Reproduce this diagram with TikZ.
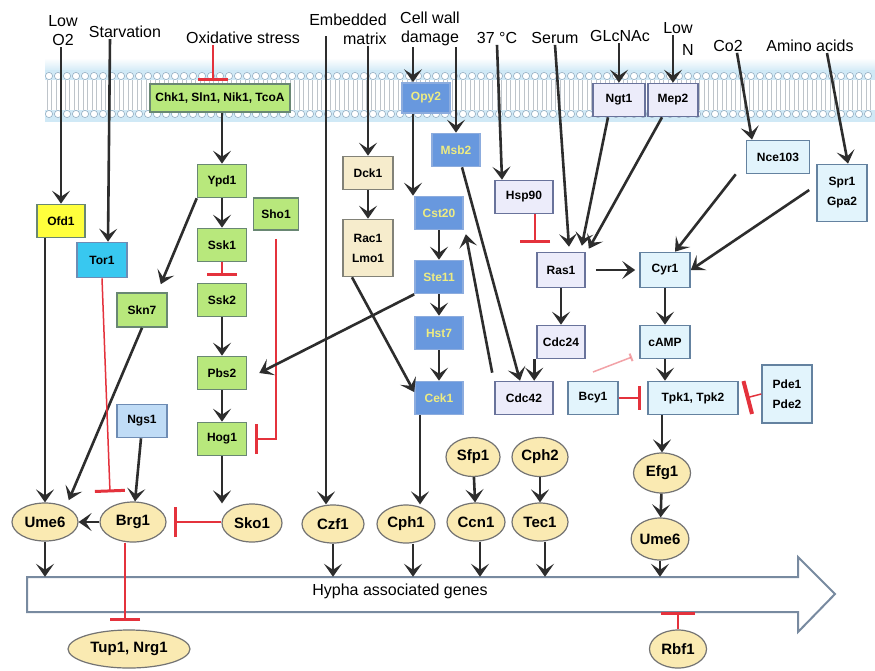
\documentclass[tikz,border=0pt]{standalone}
\usepackage{fontspec}
\setmainfont{Liberation Sans}
\usetikzlibrary{arrows.meta,shapes.geometric}
\definecolor{gfill}{RGB}{184,232,124}
\definecolor{gline}{RGB}{105,135,115}
\definecolor{bfill}{RGB}{104,152,222}
\definecolor{bline}{RGB}{140,172,222}
\definecolor{btext}{RGB}{238,236,130}
\definecolor{yfill}{RGB}{246,236,204}
\definecolor{yline}{RGB}{130,130,120}
\definecolor{lfill}{RGB}{236,236,250}
\definecolor{lline}{RGB}{105,115,155}
\definecolor{cfill}{RGB}{226,244,252}
\definecolor{cline}{RGB}{100,130,160}
\definecolor{nfill}{RGB}{192,220,246}
\definecolor{nline}{RGB}{110,140,180}
\definecolor{efill}{RGB}{250,234,178}
\definecolor{eline}{RGB}{115,115,115}
\definecolor{ofdfill}{RGB}{255,255,60}
\definecolor{torfill}{RGB}{56,200,240}
\definecolor{actc}{RGB}{45,45,45}
\definecolor{inhc}{RGB}{228,50,60}
\definecolor{hyline}{RGB}{120,138,160}
\definecolor{memband}{RGB}{208,233,246}
\definecolor{headc}{RGB}{150,175,195}
\definecolor{tailc}{RGB}{190,196,202}
\begin{document}
\begin{tikzpicture}[x=1pt,y=-1pt,
  box/.style={rectangle, line width=1.6pt, minimum width=49pt, minimum height=33pt, inner sep=1pt,
    font=\bfseries\fontsize{12}{20}\selectfont, align=center},
  gbox/.style={box, fill=gfill, draw=gline},
  bbox/.style={box, fill=bfill, draw=bline, text=btext},
  ybox/.style={box, fill=yfill, draw=yline},
  lbox/.style={box, fill=lfill, draw=lline},
  cbox/.style={box, fill=cfill, draw=cline},
  ell/.style={ellipse, draw=eline, fill=efill, line width=1.2pt, minimum width=60pt, minimum height=38pt,
    inner sep=0pt, font=\bfseries\fontsize{15}{16}\selectfont},
  lab/.style={font=\fontsize{16}{19}\selectfont, align=center, inner sep=1pt},
  act/.style={draw=actc, line width=2.6pt, -{Stealth[length=13pt,width=18pt,inset=6pt]}},
  inh/.style={draw=inhc, line width=1.5pt, -{Bar[width=30pt,line width=3pt]}}]
\useasboundingbox (0,0) rectangle (875,670);
\fill[white] (0,0) rectangle (875,670);
% membrane
\shade[top color=white,bottom color=memband] (45,58) rectangle (875,72);
\fill[memband] (45,70) rectangle (875,80);
\fill[memband] (45,110) rectangle (875,122);
\foreach \x in {49,58,...,871} {
  \draw[tailc, line width=.5pt] (\x-1.8,80) -- (\x-1.8,110) (\x+1.8,80) -- (\x+1.8,110);
  \draw[headc, fill=white, line width=.6pt] (\x,76) circle (3.6);
  \draw[headc, fill=white, line width=.6pt] (\x,114) circle (3.6);
}
% hypha arrow
\draw[draw=hyline, line width=2pt, fill=white, line join=miter]
  (27,577) -- (798,577) -- (798,557) -- (835,594) -- (798,632) -- (798,612) -- (27,612) -- cycle;
\node[minimum width=771pt, minimum height=35pt, inner sep=0pt] (hypha) at (412.5,594.5) {};
\node[lab] (hyphatext) at (400,591) {Hypha associated genes};
% labels
\node[lab] (lowO2) at (63,31) {Low\\O2};
\node[lab] (starv) at (125,32) {Starvation};
\node[lab] (oxid) at (243,38) {Oxidative stress};
\node[lab, align=right] (embed) at (348,29) {Embedded\\matrix};
\node[lab] (cellwall) at (430,29) {Cell wall\\damage};
\node[lab] (t37) at (497,38) {37 °C};
\node[lab] (serum) at (555,38) {Serum};
\node[lab] (glcnac) at (620,36) {GLcNAc};
\node[lab] (lowN) at (678,28) {Low};
\node[lab] (nN) at (688,50) {N};
\node[lab] (co2) at (728,46) {Co2};
\node[lab] (amino) at (810,46) {Amino acids};
% membrane proteins
\node[gbox, minimum width=140pt, minimum height=28pt] (chk) at (220,98) {Chk1, Sln1, Nik1, TcoA};
\node[bbox, minimum width=48pt, minimum height=30pt] (opy2) at (426,98) {Opy2};
\node[lbox, minimum width=52pt] (ngt1) at (619,100) {Ngt1};
\node[lbox, minimum width=50pt] (mep2) at (673,100) {Mep2};
% left
\node[box, fill=ofdfill, draw=gline, minimum width=48pt] (ofd1) at (61,221) {Ofd1};
\node[box, fill=torfill, draw=nline, minimum width=50pt, minimum height=35pt] (tor1) at (102,260) {Tor1};
\node[gbox] (ypd1) at (222,181) {Ypd1};
\node[gbox] (ssk1) at (222,245) {Ssk1};
\node[gbox] (ssk2) at (222,300) {Ssk2};
\node[gbox] (pbs2) at (222,373) {Pbs2};
\node[gbox] (hog1) at (222,439) {Hog1};
\node[gbox, minimum width=45pt, minimum height=32pt] (sho1) at (276,214) {Sho1};
\node[gbox, minimum width=50pt, minimum height=34pt] (skn7) at (142,310) {Skn7};
\node[box, fill=nfill, draw=nline, minimum width=50pt] (ngs1) at (142,421) {Ngs1};
% middle
\node[ybox, minimum width=50pt] (dck1) at (368,173) {Dck1};
\node[ybox, minimum width=50pt, minimum height=57pt] (raclmo) at (368,248) {Rac1\\Lmo1};
\node[bbox, minimum width=48pt] (msb2) at (456,150) {Msb2};
\node[bbox, minimum width=48pt] (cst20) at (439,213) {Cst20};
\node[bbox, minimum width=48pt] (ste11) at (439,277) {Ste11};
\node[bbox, minimum width=48pt] (hst7) at (439,333) {Hst7};
\node[bbox, minimum width=48pt] (cek1) at (439,398) {Cek1};
\node[lbox, minimum width=58pt] (hsp90) at (524,197) {Hsp90};
\node[lbox, minimum width=48pt, minimum height=35pt] (ras1) at (561,270) {Ras1};
\node[lbox, minimum width=48pt] (cdc24) at (561,342) {Cdc24};
\node[lbox, minimum width=58pt] (cdc42) at (524,398) {Cdc42};
% right
\node[cbox, minimum width=50pt] (bcy1) at (593,398) {Bcy1};
\node[cbox, minimum width=50pt, minimum height=35pt] (cyr1) at (665,270) {Cyr1};
\node[cbox, minimum width=50pt] (camp) at (665,342) {cAMP};
\node[cbox, minimum width=90pt] (tpk) at (693,398) {Tpk1, Tpk2};
\node[cbox, minimum width=50pt, minimum height=58pt] (pde) at (787,394) {Pde1\\Pde2};
\node[cbox, minimum width=63pt] (nce103) at (778,157) {Nce103};
\node[cbox, minimum width=50pt, minimum height=57pt] (spr1) at (842,193) {Spr1\\Gpa2};
% transcription factors
\node[ell, minimum width=66pt] (ume6a) at (45,522) {Ume6};
\node[ell, minimum width=66pt, minimum height=40pt] (brg1) at (133,522) {Brg1};
\node[ell] (sko1) at (252,523) {Sko1};
\node[ell, minimum width=62pt] (czf1) at (333,524) {Czf1};
\node[ell, minimum width=58pt] (cph1) at (406,524) {Cph1};
\node[ell, minimum width=58pt] (ccn1) at (476,522) {Ccn1};
\node[ell, minimum width=56pt] (tec1) at (540,522) {Tec1};
\node[ell, minimum width=54pt, minimum height=39pt] (sfp1) at (473,457) {Sfp1};
\node[ell, minimum width=56pt, minimum height=39pt] (cph2) at (540,457) {Cph2};
\node[ell, minimum width=57pt, minimum height=40pt] (efg1) at (662,473) {Efg1};
\node[ell, minimum width=56pt, minimum height=42pt] (ume6b) at (660,539) {Ume6};
\node[ell, minimum width=57pt] (rbf1) at (678,649) {Rbf1};
\node[ell, minimum width=122pt] (tup1) at (129,649) {Tup1, Nrg1};
% free-end coordinates
\coordinate (emb1) at (326,36);
\coordinate (opyT) at ([xshift=-13pt]opy2.north);
\coordinate (opyB) at ([xshift=-13pt]opy2.south);
\coordinate (cekB) at ([xshift=-19pt]cek1.south);
\coordinate (c24B) at ([xshift=-2pt]cdc24.south west);
\coordinate (brgE) at ([xshift=7pt]brg1.east);
\coordinate (fadeA) at (593,372);
\coordinate (fadeB) at (632,357);
% connectors
\draw[act] (lowO2.south -| ofd1.north) -- (ofd1.north);
\draw[act] ([xshift=-15pt]starv.south) -- ([xshift=6pt]tor1.north);
\draw[inh] ([xshift=-30pt]oxid.south) -- ([xshift=-7pt,yshift=2pt]chk.north);
\draw[act] (chk.south -| ypd1.north) -- (ypd1.north);
\draw[act] (ypd1) -- (ssk1);
\draw[inh] (ssk1.south) -- ([yshift=7pt]ssk2.north);
\draw[act] (ssk2) -- (pbs2);
\draw[act] (pbs2) -- (hog1);
\draw[act] (hog1.south) -- (hog1.south |- sko1.north);
\draw[inh] ([yshift=-8pt]sho1.south) -- (sho1.south |- hog1.east) -- ([xshift=8pt]hog1.east);
\draw[act] (ypd1.south west) -- ([shift={(-7pt,8pt)}]skn7.north east);
\draw[act] (skn7.south) -- ([yshift=8pt]ume6a.north east);
\draw[inh] (tor1.south) -- ([shift={(-23pt,9pt)}]brg1.north);
\draw[act] ([xshift=-16pt]ofd1.south) -- (ume6a.north);
\draw[act] ([xshift=-1pt]ngs1.south) -- ([xshift=2pt]brg1.north);
\draw[act] (brg1.west) -- (ume6a.east);
\draw[inh] (sko1.west |- brgE) -- (brgE);
\draw[inh] ([xshift=-8pt]brg1.south) -- ([xshift=-4pt,yshift=8pt]tup1.north);
\draw[act] (ume6a.south) -- (ume6a.south |- hypha.north);
\draw[act] (emb1) -- (emb1 |- czf1.north);
\draw[act] (embed.south -| dck1.north) -- (dck1.north);
\draw[act] (dck1) -- (raclmo);
\draw[act] ([xshift=-16pt]raclmo.south) -- ([yshift=6pt]cek1.west);
\draw[act] (cellwall.south -| opyT) -- (opyT);
\draw[act] (cellwall.south -| msb2.north) -- (msb2.north);
\draw[act] (opyB) -- (opyB |- cst20.north);
\draw[act] (cst20) -- (ste11);
\draw[act] (ste11) -- (hst7);
\draw[act] (hst7) -- (cek1);
\draw[act] ([xshift=6pt]msb2.south) -- ([xshift=-4pt]cdc42.north);
\draw[act] ([shift={(-2pt,8pt)}]cdc42.north west) -- ([shift={(2pt,-4pt)}]cst20.south east);
\draw[act] (ste11.south west) -- ([xshift=12pt]pbs2.east);
\draw[act] (cekB) -- (cekB |- cph1.north);
\draw[act] (t37.south) -- ([xshift=-22pt]hsp90.north);
\draw[inh] ([xshift=11pt]hsp90.south) -- ([shift={(-26pt,9pt)}]ras1.north);
\draw[act] (serum.south) -- ([shift={(8pt,5pt)}]ras1.north);
\draw[act] (glcnac.south -| ngt1.north) -- (ngt1.north);
\draw[act] (lowN.south -| mep2.north) -- (mep2.north);
\draw[act] ([xshift=-11pt]ngt1.south) -- ([shift={(-4pt,6pt)}]ras1.north east);
\draw[act] ([xshift=-11pt]mep2.south) -- ([shift={(3pt,3pt)}]ras1.north east);
\draw[act, shorten <=10pt, shorten >=4pt] (ras1) -- (cyr1);
\draw[act] ([xshift=9pt]co2.south) -- ([xshift=-26pt]nce103.north);
\draw[act] ([xshift=-10pt]nce103.south west) -- ([xshift=10pt]cyr1.north);
\draw[act] ([xshift=17pt]amino.south) -- ([xshift=6pt]spr1.north);
\draw[act] ([shift={(-7pt,3pt)}]spr1.west) -- (cyr1.east);
\draw[act] (cyr1) -- (camp);
\draw[act] (camp.south) -- (camp.south |- tpk.north);
\draw[inh, -{Bar[width=24pt,line width=3pt]}] (bcy1.east) -- ([xshift=-6pt]tpk.west);
\draw[inh, -{Bar[width=34pt,line width=4pt]}] (pde.west) -- ([xshift=7pt]tpk.east);
\draw[act] (efg1.north |- tpk.south) -- (efg1.north);
\draw[act] (efg1) -- (ume6b);
\draw[act] (ume6b.south) -- (ume6b.south |- hypha.north);
\draw[inh, -{Bar[width=34pt,line width=3pt]}] (rbf1.north) -- (rbf1.north |- hypha.south);
\draw[act] (ras1) -- (cdc24);
\draw[act] (c24B) -- (c24B |- cdc42.north);
\draw[inh, opacity=0.45, -{Bar[width=8pt,line width=2pt]}] (fadeA) -- (fadeB);
\draw[act] (sfp1) -- (ccn1);
\draw[act] (cph2) -- (tec1);
\draw[act] (czf1.south) -- (czf1.south |- hypha.north);
\draw[act] ([xshift=7pt]cph1.south) -- ([xshift=7pt]cph1.south |- hypha.north);
\draw[act] ([xshift=4pt]ccn1.south) -- ([xshift=4pt]ccn1.south |- hypha.north);
\draw[act] ([xshift=5pt]tec1.south) -- ([xshift=5pt]tec1.south |- hypha.north);
\end{tikzpicture}
\end{document}
